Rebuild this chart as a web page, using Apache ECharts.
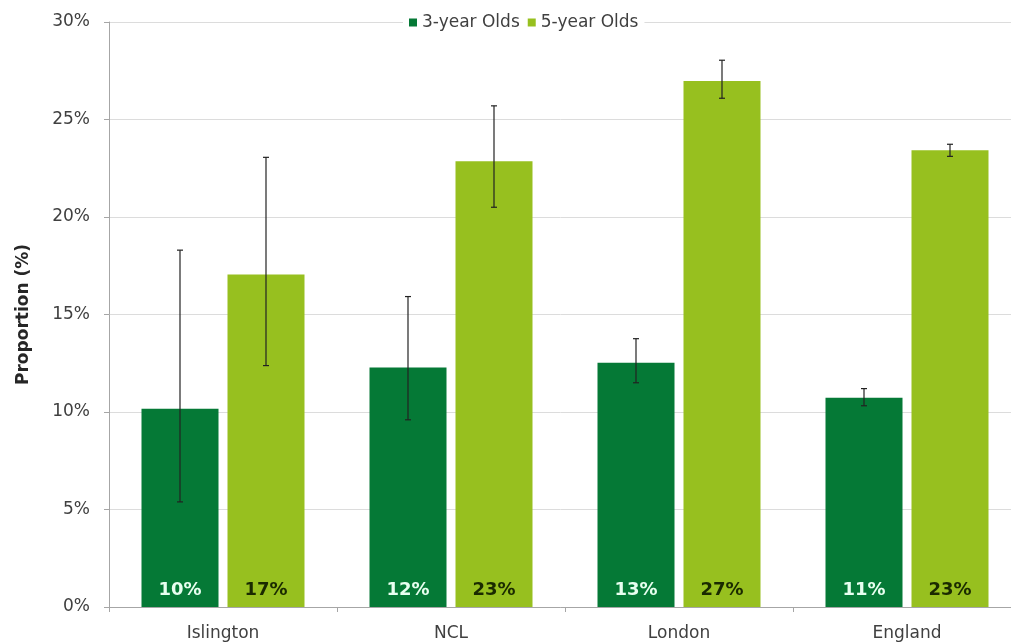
<!DOCTYPE html>
<html>
<head>
<meta charset="utf-8">
<script src="https://cdn.jsdelivr.net/npm/echarts@6/dist/echarts.min.js"></script>
<style>
html,body{margin:0;padding:0;background:#fff;}
#chart{width:1011px;height:644px;}
</style>
</head>
<body>
<div id="chart"></div>
<script>
const categories = ['Islington', 'NCL', 'London', 'England'];
const seriesNames = ['3-year Olds', '5-year Olds'];
const values3 = [10.17, 12.28, 12.53, 10.73];
const values5 = [17.05, 22.86, 26.97, 23.42];
const low3 = [5.39, 9.6, 11.5, 10.32];
const high3 = [18.3, 15.92, 13.76, 11.2];
const low5 = [12.38, 20.5, 26.09, 23.11];
const high5 = [23.06, 25.7, 28.04, 23.73];
const yTicks = [0, 5, 10, 15, 20, 25, 30];

const FONT = 'DejaVu Sans';
const BAR_W = 77;
const BAR_GAP = 9;
const DARK = '#057936';
const LIGHT = '#97c01f';

function errorSeries(lows, highs, dir) {
  return {
    type: 'custom',
    silent: true,
    z: 5,
    clip: false,
    data: categories.map((c, i) => [i, lows[i], highs[i]]),
    encode: { x: 0, y: [1, 2] },
    renderItem: function (params, api) {
      const i = api.value(0);
      const pLow = api.coord([i, api.value(1)]);
      const pHigh = api.coord([i, api.value(2)]);
      const x = pLow[0] + dir * (BAR_W + BAR_GAP) / 2;
      const cap = 3;
      const st = { stroke: '#222', lineWidth: 1.2 };
      return {
        type: 'group',
        children: [
          { type: 'line', shape: { x1: x, y1: pLow[1], x2: x, y2: pHigh[1] }, style: st },
          { type: 'line', shape: { x1: x - cap, y1: pLow[1], x2: x + cap, y2: pLow[1] }, style: st },
          { type: 'line', shape: { x1: x - cap, y1: pHigh[1], x2: x + cap, y2: pHigh[1] }, style: st }
        ]
      };
    }
  };
}

const chart = echarts.init(document.getElementById('chart'));
chart.setOption({
  animation: false,
  backgroundColor: '#fff',
  textStyle: { fontFamily: FONT },
  grid: { left: 109, width: 912, top: 22, bottom: 37, containLabel: false, outerBoundsMode: 'none' },
  legend: {
    data: seriesNames,
    left: 403,
    top: 12,
    padding: [2, 6],
    backgroundColor: '#fff',
    icon: 'rect',
    itemWidth: 8,
    itemHeight: 8,
    itemGap: 8,
    textStyle: { fontFamily: FONT, fontSize: 17, color: '#404040', padding: [0, 0, 0, 0] }
  },
  xAxis: {
    type: 'category',
    data: categories,
    axisLine: { lineStyle: { color: '#a6a6a6', width: 1 } },
    axisTick: { show: true, length: 5, lineStyle: { color: '#a6a6a6' } },
    axisLabel: { fontFamily: FONT, fontSize: 17, color: '#404040', margin: 18 }
  },
  yAxis: {
    type: 'value',
    min: yTicks[0],
    max: yTicks[yTicks.length - 1],
    interval: 5,
    name: 'Proportion (%)',
    nameLocation: 'middle',
    nameGap: 77,
    nameTextStyle: { fontFamily: FONT, fontSize: 17, fontWeight: 'bold', color: '#262626' },
    axisLine: { show: true, lineStyle: { color: '#a6a6a6', width: 1 } },
    axisTick: { show: true, length: 5, lineStyle: { color: '#a6a6a6' } },
    splitLine: { lineStyle: { color: '#dcdcdc', width: 1 } },
    axisLabel: { fontFamily: FONT, fontSize: 17, color: '#404040', margin: 19, formatter: v => v + '%' }
  },
  series: [
    {
      name: seriesNames[0],
      type: 'bar',
      data: values3,
      barWidth: BAR_W,
      barGap: (BAR_GAP / BAR_W * 100) + '%',
      itemStyle: { color: DARK },
      label: {
        show: true, position: 'insideBottom', distance: 8,
        fontFamily: FONT, fontSize: 18, fontWeight: 'bold', color: '#e8fff0',
        formatter: p => Math.round(p.value) + '%'
      }
    },
    {
      name: seriesNames[1],
      type: 'bar',
      data: values5,
      barWidth: BAR_W,
      itemStyle: { color: LIGHT },
      label: {
        show: true, position: 'insideBottom', distance: 8,
        fontFamily: FONT, fontSize: 18, fontWeight: 'bold', color: '#1a2a00',
        formatter: p => Math.round(p.value) + '%'
      }
    },
    errorSeries(low3, high3, -1),
    errorSeries(low5, high5, 1)
  ]
});
</script>
</body>
</html>
